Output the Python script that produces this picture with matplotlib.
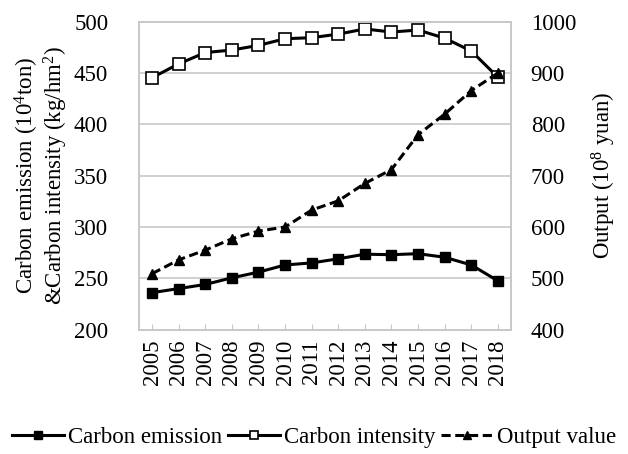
import matplotlib
matplotlib.use('Agg')
import matplotlib.pyplot as plt
from matplotlib.ticker import MultipleLocator

plt.rcParams['font.family'] = ['Liberation Serif', 'DejaVu Serif']
plt.rcParams['mathtext.fontset'] = 'custom'
plt.rcParams['mathtext.rm'] = 'Liberation Serif'
plt.rcParams['mathtext.it'] = 'Liberation Serif:italic'

years = ['2005', '2006', '2007', '2008', '2009', '2010', '2011',
         '2012', '2013', '2014', '2015', '2016', '2017', '2018']
carbon_emission = [236, 240, 244, 250.5, 256, 263, 265, 269, 273.5, 273, 274, 270.5, 263, 247.5]
carbon_intensity = [445.5, 459, 470, 472.5, 477, 483.5, 484.5, 488, 493, 490, 492, 484, 471.5, 446]
output_value = [509, 536, 555, 577, 592, 600, 633, 651, 685, 712, 780, 820, 866, 900]

x = list(range(len(years)))
grey = '#c8c8c8'
fs = 16.5

fig = plt.figure(figsize=(6.28, 4.54), dpi=100)
ax = fig.add_axes([0.221, 0.274, 0.593, 0.678])
ax2 = ax.twinx()

l1, = ax.plot(x, carbon_emission, color='black', lw=2.2, marker='s', ms=7,
              mfc='black', mec='black', label='Carbon emission')
l2, = ax.plot(x, carbon_intensity, color='black', lw=2.2, marker='s', ms=8,
              mfc='white', mec='black', mew=1.2, label='Carbon intensity')
l3, = ax2.plot(x, output_value, color='black', lw=2.2, ls=(0, (3, 1.5)), marker='^', ms=7,
               mfc='black', mec='black', label='Output value')

ax.set_xlim(-0.5, 13.5)
ax.set_ylim(200, 500)
ax.yaxis.set_major_locator(MultipleLocator(50))
ax2.set_ylim(400, 1000)
ax2.yaxis.set_major_locator(MultipleLocator(100))

ax.set_xticks(x)
ax.set_xticklabels(years, rotation=90, fontsize=fs)
ax.tick_params(axis='x', direction='in', length=4, color=grey, pad=7)
ax.tick_params(axis='y', length=0, labelsize=fs, pad=22)
ax2.tick_params(axis='y', length=0, labelsize=fs, pad=14)

ax.grid(axis='y', color=grey, lw=1.2)
ax.set_axisbelow(True)
for a in (ax, ax2):
    for s in a.spines.values():
        s.set_color(grey)
        s.set_linewidth(1.2)

ax.set_ylabel('Carbon emission (10$^{4}$ton)\n&Carbon intensity (kg/hm$^{2}$)',
              fontsize=fs, linespacing=1.05, labelpad=3)
ax2.set_ylabel('Output (10$^{8}$ yuan)', fontsize=fs, labelpad=10)

fig.legend(handles=[l1, l2, l3], loc='center', bbox_to_anchor=(0.5, 0.037),
           ncol=3, frameon=False, fontsize=fs, handlelength=2.3, markerscale=0.8,
           handletextpad=0.15, columnspacing=0.25, borderaxespad=0)

fig.savefig('out.png', dpi=100)
